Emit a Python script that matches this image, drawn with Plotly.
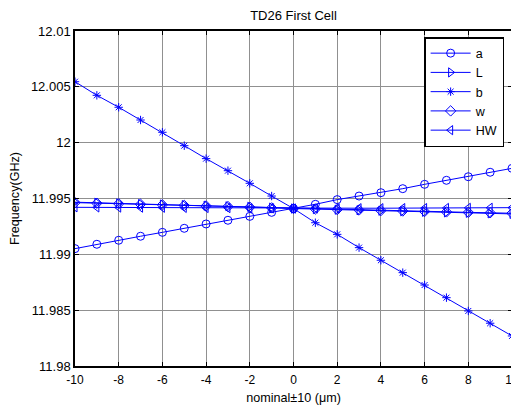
import plotly.graph_objects as go

x = list(range(-10, 11))

a_vals = [11.99051, 11.99090, 11.99126, 11.99162, 11.99197, 11.99233, 11.99272, 11.99305,
          11.99340, 11.99376, 11.99410, 11.99448, 11.99490, 11.99522, 11.99552, 11.99588,
          11.99627, 11.99663, 11.99695, 11.99735, 11.99770]
L_vals = [11.99467, 11.99462, 11.99456, 11.99451, 11.99446, 11.99441, 11.99436, 11.99430,
          11.99425, 11.99418, 11.99410, 11.99405, 11.99400, 11.99395, 11.99390, 11.99386,
          11.99381, 11.99376, 11.99372, 11.99367, 11.99362]
b_vals = [12.00546, 12.00424, 12.00317, 12.00203, 12.00093, 11.99973, 11.99857, 11.99749,
          11.99636, 11.99522, 11.99410, 11.99283, 11.99179, 11.99060, 11.98947, 11.98836,
          11.98725, 11.98612, 11.98493, 11.98383, 11.98269]
w_vals = [11.99463, 11.99458, 11.99453, 11.99448, 11.99443, 11.99438, 11.99433, 11.99428,
          11.99422, 11.99416, 11.99410, 11.99406, 11.99401, 11.99397, 11.99392, 11.99388,
          11.99384, 11.99380, 11.99376, 11.99372, 11.99368]
HW_vals = [11.99421, 11.99420, 11.99419, 11.99418, 11.99417, 11.99416, 11.99415, 11.99414,
           11.99413, 11.99412, 11.99410, 11.99411, 11.99412, 11.99413, 11.99413, 11.99414,
           11.99414, 11.99415, 11.99416, 11.99417, 11.99418]

series = [
    ("a", a_vals, "circle-open"),
    ("L", L_vals, "triangle-right-open"),
    ("b", b_vals, "asterisk-open"),
    ("w", w_vals, "diamond-open"),
    ("HW", HW_vals, "triangle-left-open"),
]

x_ticks = [-10, -8, -6, -4, -2, 0, 2, 4, 6, 8, 10]
y_ticks = [11.98, 11.985, 11.99, 11.995, 12.0, 12.005, 12.01]
y_tick_text = ["11.98", "11.985", "11.99", "11.995", "12", "12.005", "12.01"]

FONT = "Liberation Sans, Arial, sans-serif"
BLUE = "#0000ff"

# The page body has an 8px default margin, so the figure is sized/offset to fit.
W, H = 511, 397

fig = go.Figure()
for name, vals, sym in series:
    fig.add_trace(go.Scatter(
        x=x, y=vals, name=name, mode="lines+markers",
        line=dict(color=BLUE, width=1),
        marker=dict(symbol=sym, size=8 if sym != "asterisk-open" else 7,
                    color=BLUE, line=dict(color=BLUE, width=1)),
    ))

axis_common = dict(
    showgrid=True, gridcolor="#909090", gridwidth=1,
    showline=True, linecolor="black", linewidth=1.5, mirror="ticks",
    ticks="inside", ticklen=4, tickcolor="black",
    zeroline=False, automargin=False,
)

fig.update_xaxes(range=[-10, 10], tickvals=x_ticks,
                 ticktext=[str(v) for v in x_ticks],
                 ticklabelstandoff=2,
                 tickfont=dict(family=FONT, size=12, color="black"),
                 title=dict(text="nominal±10 (μm)", font=dict(family=FONT, size=12.6, color="black")),
                 **axis_common)
fig.update_yaxes(range=[11.98, 12.01], tickvals=y_ticks, ticktext=y_tick_text,
                 tickfont=dict(family=FONT, size=13, color="black"),
                 title=dict(text="Frequency(GHz)", font=dict(family=FONT, size=12.6, color="black")),
                 **axis_common)

fig.update_layout(
    width=W, height=H,
    margin=dict(l=67, r=7, t=23, b=39),
    paper_bgcolor="white", plot_bgcolor="white",
    title=dict(text="TD26 First Cell", x=285.5 / W, xanchor="center",
               y=1 - 7 / H, yanchor="middle",
               font=dict(family=FONT, size=13, color="black")),
    showlegend=True,
    legend=dict(x=0.982, xanchor="right", y=0.982, yanchor="top",
                bgcolor="white", bordercolor="black", borderwidth=1.5,
                font=dict(family=FONT, size=12.5, color="black"),
                itemwidth=40, tracegroupgap=0),
    font=dict(family=FONT, color="black"),
)

fig.write_html("out.html")
